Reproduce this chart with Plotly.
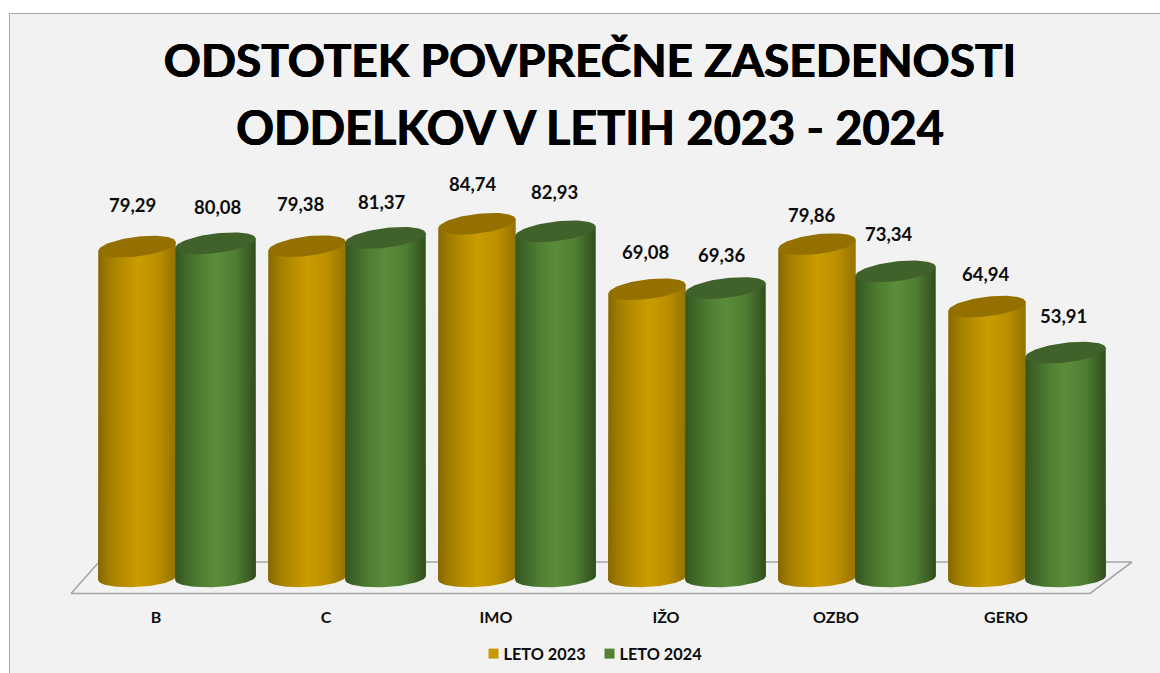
import numpy as np
import plotly.graph_objects as go

categories = ["B", "C", "IMO", "IŽO", "OZBO", "GERO"]
leto_2023 = [79.29, 79.38, 84.74, 69.08, 79.86, 64.94]
leto_2024 = [80.08, 81.37, 82.93, 69.36, 73.34, 53.91]

W, H = 1160, 673
ML, MR, MT, MB = 60, 20, 170, 73
PX_CAT, PX_VAL = 170.0, 4.18
CAT0_PX, ZERO_PX = 156.0, 578.0

def px_x(p):
    return (p - CAT0_PX) / PX_CAT

def px_y(p):
    return (ZERO_PX - p) / PX_VAL

def paper_x(p):
    return (p - ML) / (W - ML - MR)

def paper_y(p):
    return (H - MB - p) / (H - MT - MB)

def ellipse(cx, cy, a_cat, b_val, tilt, t):
    a = a_cat * PX_CAT
    b = b_val * PX_VAL
    ex = a * np.cos(t)
    ey = b * np.sin(t)
    c, s = np.cos(tilt), np.sin(tilt)
    return cx + (ex * c - ey * s) / PX_CAT, cy + (ex * s + ey * c) / PX_VAL

SERIES = [
    dict(name="LETO 2023", values=leto_2023, off=-19 / PX_CAT, half=39 / PX_CAT,
         cap="#937000", swatch="#C69900",
         scale=[[0, "#866700"], [0.12, "#9E7A00"], [0.3, "#B58C00"], [0.5, "#CB9C00"], [0.75, "#BC9000"], [1, "#957200"]],
         label_dx=[-5, -6, -4.5, -1, -5, -1], label_dy=[-42, -42, -40, -37, -29, -33]),
    dict(name="LETO 2024", values=leto_2024, off=59.5 / PX_CAT, half=40.5 / PX_CAT,
         cap="#40622A", swatch="#548235",
         scale=[[0, "#345520"], [0.12, "#3F6628"], [0.3, "#4F7D32"], [0.5, "#5C8C3B"], [0.75, "#4F7D32"], [1, "#304D1C"]],
         label_dx=[2, -3.5, -1.5, -4, -6.5, -2.5], label_dy=[-36, -36, -39, -33, -37, -37]),
]

fig = go.Figure()

floor_x = [px_x(p) for p in (71, 99, 1132, 1090, 71)]
floor_y = [px_y(p) for p in (593.5, 562, 562, 593.5, 593.5)]
fig.add_trace(go.Scatter(x=floor_x, y=floor_y, mode="lines", showlegend=False, hoverinfo="skip",
                         line=dict(color="#A6A6A6", width=1.6)))

TOP_TILT = np.deg2rad(7)
BOT_TILT = np.deg2rad(3)
B_TOP = 9.8 / PX_VAL
B_BOT = 9.0 / PX_VAL

annotations = []
for i, cat in enumerate(categories):
    for s in SERIES:
        v = s["values"][i]
        cx = i + s["off"]
        tb = np.linspace(np.pi, 0, 41)
        bx, by = ellipse(cx, 0.0, s["half"], -B_BOT, BOT_TILT, tb)
        tt = np.linspace(0, np.pi, 41)
        tx, ty = ellipse(cx, v, s["half"], 0.0, TOP_TILT, tt)
        fig.add_trace(go.Scatter(
            x=np.r_[bx, tx, bx[0]], y=np.r_[by, ty, by[0]],
            mode="lines", fill="toself", line=dict(width=0),
            fillgradient=dict(type="horizontal", colorscale=s["scale"]),
            showlegend=False, name=s["name"], hoverinfo="skip"))
        t = np.linspace(0, 2 * np.pi, 81)
        ex, ey = ellipse(cx, v, s["half"], B_TOP, TOP_TILT, t)
        fig.add_trace(go.Scatter(
            x=ex, y=ey, mode="lines", fill="toself", fillcolor=s["cap"],
            line=dict(width=0), showlegend=False, name=s["name"],
            text=f"{cat}: {v}", hoverinfo="text"))
        annotations.append(dict(
            x=cx, y=v, xref="x", yref="y", showarrow=False,
            text=f"{v:.2f}".replace(".", ","),
            xshift=s["label_dx"][i], yshift=-s["label_dy"][i],
            font=dict(family="Lato", size=18.5, color="#0D0D0D", weight=700)))

for s in SERIES:
    fig.add_trace(go.Scatter(x=[None], y=[None], mode="markers", name=s["name"],
                             marker=dict(symbol="square", size=10, color=s["swatch"])))

fig.update_layout(
    width=W, height=H,
    margin=dict(l=ML, r=MR, t=MT, b=MB, autoexpand=False),
    paper_bgcolor="white",
    plot_bgcolor="rgba(0,0,0,0)",
    title=dict(
        text='<span style="font-size:46px">ODSTOTEK POVPREČNE ZASEDENOSTI</span><br>'
             '<span style="font-size:46.8px">ODDELKOV V LETIH 2023 - 2024</span>',
        x=590 / W, xanchor="center", y=1 - 77 / H, yanchor="middle",
        font=dict(family="Lato", size=52.3, color="black", weight=700,
                  shadow="0.5px 0 0 #000, -0.5px 0 0 #000")),
    xaxis=dict(range=[px_x(ML), px_x(W - MR)], tickmode="array",
               tickvals=list(range(len(categories))), ticktext=categories,
               showgrid=False, zeroline=False, showline=False,
               ticks="outside", ticklen=3, tickcolor="rgba(0,0,0,0)",
               tickfont=dict(family="Lato", size=16, color="#0D0D0D", weight=700)),
    yaxis=dict(range=[px_y(H - MB), px_y(MT)], visible=False),
    legend=dict(orientation="h", x=558 / W, xanchor="center", y=paper_y(654), yanchor="middle",
                font=dict(family="Lato", size=16.3, color="#0D0D0D", weight=700),
                bgcolor="rgba(0,0,0,0)", itemwidth=30, entrywidth=71, entrywidthmode="pixels"),
    shapes=[dict(type="rect", xref="paper", yref="paper", layer="below",
                 x0=paper_x(9.5), x1=paper_x(1175), y0=paper_y(13.5), y1=paper_y(690),
                 line=dict(color="#A6A6A6", width=1), fillcolor="#F2F2F2")],
    annotations=annotations,
    hovermode="closest",
)

fig.write_html(
    "out.html",
    post_script="document.body.style.margin='0';document.documentElement.style.overflow='hidden';"
                "document.querySelectorAll('.legendsymbols').forEach(function(e){e.setAttribute('transform','translate(10,0)');});"
                "document.querySelectorAll('.legend .scrollbox').forEach(function(e){e.removeAttribute('clip-path');});",
    config=dict(displayModeBar=False))
